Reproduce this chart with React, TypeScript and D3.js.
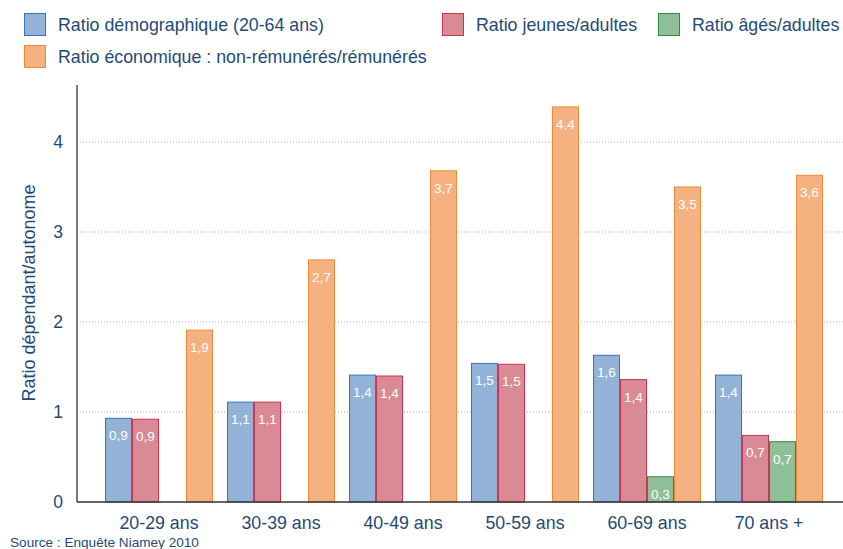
import React from "react";
import * as d3 from "d3";

const categories = ["20-29 ans", "30-39 ans", "40-49 ans", "50-59 ans", "60-69 ans", "70 ans +"];
const seriesNames = [
  "Ratio démographique (20-64 ans)",
  "Ratio jeunes/adultes",
  "Ratio âgés/adultes",
  "Ratio économique : non-rémunérés/rémunérés",
];
const demographique = [0.93, 1.11, 1.41, 1.54, 1.63, 1.41];
const jeunes = [0.92, 1.11, 1.40, 1.53, 1.36, 0.74];
const ages = [0, 0, 0, 0, 0.28, 0.67];
const economique = [1.91, 2.69, 3.68, 4.39, 3.5, 3.63];
const yTicks = [0, 1, 2, 3, 4];

const fills = ["#92b3d7", "#d98a95", "#8fbf99", "#f3b27f"];
const strokes = ["#3d72b8", "#c9354c", "#2e8a47", "#ef8a3a"];
const textColor = "#1f4a77";
const font = "'Liberation Sans', Arial, Helvetica, sans-serif";

export default function App() {
  const W = 843, H = 549;
  const series = [demographique, jeunes, ages, economique];
  const y = d3.scaleLinear().domain([0, 4]).range([502, 142]);
  const x0 = d3.scaleBand<string>().domain(categories).range([98, 830]).paddingInner(0.115).paddingOuter(0.0575);
  const x1 = d3.scaleBand<number>().domain([0, 1, 2, 3]).range([0, x0.bandwidth()]);
  const fmt = (v: number) => d3.format(".1f")(v).replace(".", ",");
  const axisX = 77;
  const axisTop = 85;

  return (
    <svg width={W} height={H} style={{ display: "block", position: "absolute", left: 0, top: 0 }} fontFamily={font}>
      <rect width={W} height={H} fill="#fff" />
      {yTicks.filter((t) => t > 0).map((t) => (
        <line key={t} x1={axisX} x2={W} y1={y(t)} y2={y(t)} stroke="#aaaaaa" strokeWidth={1} strokeDasharray="1,2" />
      ))}
      {yTicks.map((t) => (
        <text key={t} x={58} y={y(t) + 6} textAnchor="middle" fontSize={17.5} fill={textColor}>{t}</text>
      ))}
      {categories.map((c, i) => (
        <g key={c} transform={`translate(${x0(c)},0)`}>
          {series.map((s, k) => {
            const v = s[i];
            const top = y(v);
            const bx = x1(k)!;
            const bw = x1.bandwidth();
            return (
              <g key={k}>
                <rect x={bx + 0.5} y={top} width={bw - 1} height={502 - top} fill={fills[k]} stroke={strokes[k]} strokeWidth={1} />
                {v > 0 && (
                  <text x={bx + bw / 2} y={top + 22} textAnchor="middle" fontSize={13.5} fill="#fff">{fmt(v)}</text>
                )}
              </g>
            );
          })}
          <text x={x0.bandwidth() / 2} y={529} textAnchor="middle" fontSize={17.8} fill={textColor}>{c}</text>
        </g>
      ))}
      <line x1={axisX} x2={axisX} y1={axisTop} y2={502} stroke="#7a7a7a" strokeWidth={2} />
      <line x1={axisX} x2={W} y1={502} y2={502} stroke="#333" strokeWidth={1.5} />
      <text transform={`translate(35,293) rotate(-90)`} textAnchor="middle" fontSize={18} fill={textColor}>Ratio dépendant/autonome</text>
      <text x={10} y={547} fontSize={13.6} fill={textColor}>Source : Enquête Niamey 2010</text>
      {[
        { k: 0, x: 24, y: 13 },
        { k: 1, x: 442, y: 13 },
        { k: 2, x: 658, y: 13 },
        { k: 3, x: 24, y: 45 },
      ].map(({ k, x, y: ly }) => (
        <g key={k}>
          <rect x={x + 0.5} y={ly + 0.5} width={21} height={22} fill={fills[k]} stroke={strokes[k]} strokeWidth={1} />
          <text x={x + 34} y={ly + 18} fontSize={17.8} fill={textColor}>{seriesNames[k]}</text>
        </g>
      ))}
    </svg>
  );
}
